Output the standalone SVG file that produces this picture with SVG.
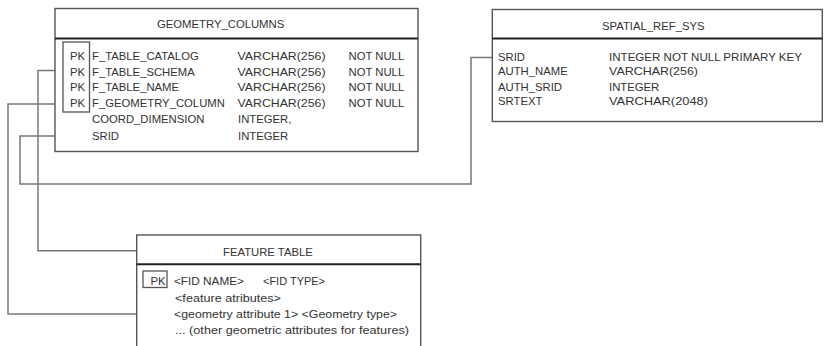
<svg xmlns="http://www.w3.org/2000/svg" width="824" height="346" viewBox="0 0 824 346">
<style>
.box{fill:#fff;stroke:#555;stroke-width:1.4}
.sep{stroke:#222;stroke-width:2}
.pk{fill:none;stroke:#555;stroke-width:1.3}
.t{font-family:"Liberation Sans",Arial,sans-serif;font-size:11.3px;fill:#333}
.conn{fill:none;stroke:#777;stroke-width:1.5}
</style>
<rect width="824" height="346" fill="#fff"/>
<g id="connectors">
<polyline class="conn" points="78,136 20,136 20,184 471,184 471,57.5 492,57.5"/>
<polyline class="conn" points="59.5,104 8,104 8,314 159,314"/>
<polyline class="conn" points="59.5,70.5 38,70.5 38,250.7 202,250.7"/>
<polyline class="conn" points="62.5,54 59.5,54 59.5,87 62.5,87"/>
</g>
<g id="geometry_columns">
<rect class="box" x="55" y="8.5" width="363" height="143"/>
<line class="sep" x1="55" y1="38.5" x2="418" y2="38.5"/>
<text class="t" x="157" y="28">GEOMETRY_COLUMNS</text>
<rect class="pk" x="63" y="42" width="26.5" height="70"/>
<text class="t" x="70" y="60">PK</text>
<text class="t" x="70" y="75.5">PK</text>
<text class="t" x="70" y="91">PK</text>
<text class="t" x="70" y="107">PK</text>
<text class="t" x="92" y="60">F_TABLE_CATALOG</text>
<text class="t" x="92" y="75.5">F_TABLE_SCHEMA</text>
<text class="t" x="92" y="91">F_TABLE_NAME</text>
<text class="t" x="92" y="107">F_GEOMETRY_COLUMN</text>
<text class="t" x="92" y="123">COORD_DIMENSION</text>
<text class="t" x="92" y="139.5">SRID</text>
<text class="t" x="237.5" y="60" textLength="88" lengthAdjust="spacingAndGlyphs">VARCHAR(256)</text>
<text class="t" x="237.5" y="75.5" textLength="88" lengthAdjust="spacingAndGlyphs">VARCHAR(256)</text>
<text class="t" x="237.5" y="91" textLength="88" lengthAdjust="spacingAndGlyphs">VARCHAR(256)</text>
<text class="t" x="237.5" y="107" textLength="88" lengthAdjust="spacingAndGlyphs">VARCHAR(256)</text>
<text class="t" x="238" y="123">INTEGER,</text>
<text class="t" x="238" y="139.5">INTEGER</text>
<text class="t" x="348.5" y="60">NOT NULL</text>
<text class="t" x="348.5" y="75.5">NOT NULL</text>
<text class="t" x="348.5" y="91">NOT NULL</text>
<text class="t" x="348.5" y="107">NOT NULL</text>
</g>
<g id="spatial_ref_sys">
<rect class="box" x="492.3" y="9.5" width="330" height="112"/>
<line class="sep" x1="492.3" y1="38.5" x2="822.3" y2="38.5"/>
<text class="t" x="602" y="30">SPATIAL_REF_SYS</text>
<text class="t" x="498" y="61.3">SRID</text>
<text class="t" x="498" y="75">AUTH_NAME</text>
<text class="t" x="498" y="90.7">AUTH_SRID</text>
<text class="t" x="498" y="105">SRTEXT</text>
<text class="t" x="609" y="61.3" textLength="193" lengthAdjust="spacingAndGlyphs">INTEGER NOT NULL PRIMARY KEY</text>
<text class="t" x="609" y="75" textLength="89" lengthAdjust="spacingAndGlyphs">VARCHAR(256)</text>
<text class="t" x="609" y="90.7">INTEGER</text>
<text class="t" x="609" y="105" textLength="99" lengthAdjust="spacingAndGlyphs">VARCHAR(2048)</text>
</g>
<g id="feature_table">
<rect class="box" x="136.7" y="235" width="284" height="120"/>
<line class="sep" x1="136.7" y1="264.3" x2="420.7" y2="264.3"/>
<text class="t" x="223" y="255.7">FEATURE TABLE</text>
<rect class="pk" x="143" y="271" width="24" height="16.5"/>
<text class="t" x="150.5" y="284.5">PK</text>
<text class="t" x="174" y="285" textLength="70" lengthAdjust="spacingAndGlyphs">&lt;FID NAME&gt;</text>
<text class="t" x="263" y="285" textLength="62" lengthAdjust="spacingAndGlyphs">&lt;FID TYPE&gt;</text>
<text class="t" x="175" y="302" textLength="106" lengthAdjust="spacingAndGlyphs">&lt;feature atributes&gt;</text>
<text class="t" x="174" y="318" textLength="223" lengthAdjust="spacingAndGlyphs">&lt;geometry attribute 1&gt; &lt;Geometry type&gt;</text>
<text class="t" x="175" y="333.5" textLength="234" lengthAdjust="spacingAndGlyphs">... (other geometric attributes for features)</text>
</g>
</svg>
